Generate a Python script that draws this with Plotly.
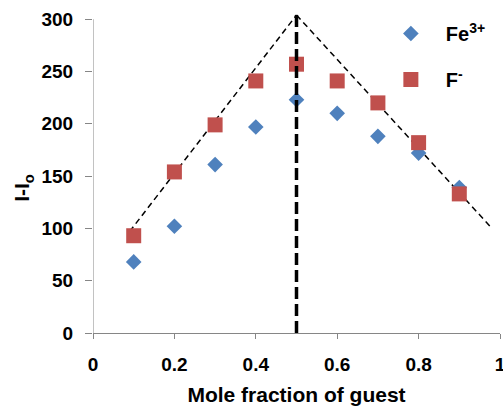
import plotly.graph_objects as go

# Data
mole_fraction = [0.1, 0.2, 0.3, 0.4, 0.5, 0.6, 0.7, 0.8, 0.9]
fe3_values = [68, 102, 161, 197, 223, 210, 188, 172, 139]
f_values = [93, 154, 199, 241, 257, 241, 220, 182, 133]

# Guide (fit) lines
fit_left_x = [0.09, 0.5]
fit_left_y = [97, 304]
fit_right_x = [0.5, 0.978]
fit_right_y = [304, 101]
vline_x = [0.5, 0.5]
vline_y = [0, 304]

x_ticks = [0, 0.2, 0.4, 0.6, 0.8, 1]
x_tick_text = ["0", "0.2", "0.4", "0.6", "0.8", "1"]
y_ticks = [0, 50, 100, 150, 200, 250, 300]

BLUE = "#4F81BD"
RED = "#C0504D"
GREY = "#868686"
FAM = "Liberation Sans, Arial, sans-serif"
TICKFONT = dict(family=FAM, size=19, color="black", weight="bold")
TITLEFONT = dict(family=FAM, size=21, color="black", weight="bold")
LEGFONT = dict(family=FAM, size=20, color="black", weight="bold")

fig = go.Figure()

fig.add_trace(go.Scatter(x=fit_left_x, y=fit_left_y, mode="lines",
                         line=dict(color="black", width=1.5, dash="6px,4px"),
                         showlegend=False, hoverinfo="skip"))
fig.add_trace(go.Scatter(x=fit_right_x, y=fit_right_y, mode="lines",
                         line=dict(color="black", width=1.5, dash="6px,4px"),
                         showlegend=False, hoverinfo="skip"))

fig.add_trace(go.Scatter(x=mole_fraction, y=fe3_values, mode="markers",
                         name="Fe<sup>3+</sup>", legendgroup="a",
                         marker=dict(symbol="diamond", size=12, color=BLUE)))
fig.add_trace(go.Scatter(x=mole_fraction, y=f_values, mode="markers",
                         name="F<sup>-</sup>", legendgroup="b",
                         marker=dict(symbol="square", size=15, color=RED)))

fig.add_trace(go.Scatter(x=vline_x, y=vline_y, mode="lines",
                         line=dict(color="black", width=3.5, dash="12px,5px"),
                         showlegend=False, hoverinfo="skip"))

# y axis line (only up to 300)
fig.add_shape(type="line", xref="x", yref="y", x0=0, x1=0, y0=0, y1=300,
              line=dict(color=GREY, width=1), layer="below")

# y axis title
fig.add_annotation(text="I-I<sub>o</sub>", textangle=-90, showarrow=False,
                   xref="paper", yref="paper", x=-0.172, y=0.455,
                   xanchor="center", yanchor="middle", font=TITLEFONT)

fig.update_layout(
    width=503, height=406,
    margin=dict(l=93, r=3, t=14, b=73, autoexpand=False),
    plot_bgcolor="white", paper_bgcolor="white",
    font=TICKFONT,
    legend=dict(x=0.695, y=1.0, xanchor="left", yanchor="top",
                itemwidth=60, tracegroupgap=17, font=LEGFONT,
                bgcolor="rgba(0,0,0,0)"),
    xaxis=dict(range=[0, 1], tickvals=x_ticks, ticktext=x_tick_text,
               automargin=False,
               showgrid=False, zeroline=False, showline=True, linecolor=GREY,
               ticks="outside", ticklen=5, tickcolor=GREY,
               ticklabelstandoff=9, ticklabeloverflow="allow", tickfont=TICKFONT,
               title=dict(text="Mole fraction of guest", font=TITLEFONT, standoff=15)),
    yaxis=dict(range=[0, 305], tickvals=y_ticks, automargin=False,
               showgrid=False, zeroline=False, showline=False,
               ticks="outside", ticklen=7, tickcolor=GREY,
               ticklabelstandoff=8, tickfont=TICKFONT),
)

fig.write_html("out.html")
